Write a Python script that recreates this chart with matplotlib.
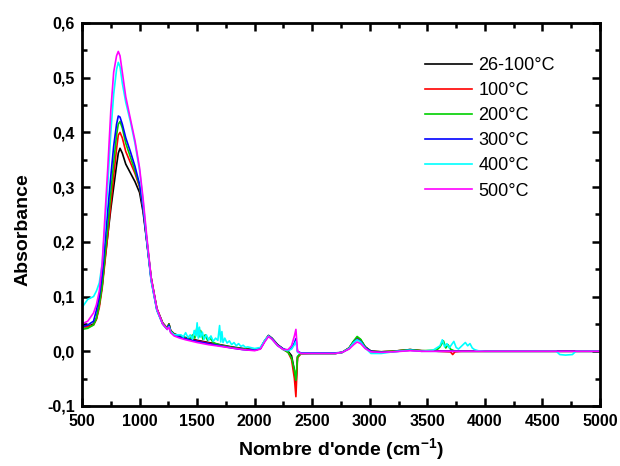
import numpy as np
import matplotlib
matplotlib.use("Agg")
import matplotlib.pyplot as plt
from matplotlib.ticker import MultipleLocator, FuncFormatter

plt.rcParams['font.family'] = ['Liberation Sans', 'DejaVu Sans']
plt.rcParams['mathtext.fontset'] = 'custom'
plt.rcParams['mathtext.rm'] = 'Liberation Sans:bold'
plt.rcParams['mathtext.default'] = 'rm'

# ---------------- data ----------------
wavenumber = [500, 550, 600, 625, 650, 675, 700, 725, 750, 775,
              800, 815, 830, 850, 880, 920, 960, 1000, 1030, 1060,
              1100, 1150, 1200, 1240, 1255, 1270, 1300, 1350, 1400, 1500,
              1600, 1700, 1800, 1900, 2000, 2050, 2090, 2120, 2150, 2200,
              2250, 2290, 2320, 2345, 2358, 2372, 2400, 2500, 2700, 2760,
              2820, 2860, 2890, 2920, 2960, 3010, 3100, 3200, 3350, 3450,
              3600, 3800, 4000, 4300, 4600, 4700, 5000]

abs_26_100 = [0.045, 0.045, 0.050, 0.060, 0.085, 0.120, 0.170, 0.215, 0.260, 0.300,
              0.340, 0.362, 0.371, 0.362, 0.342, 0.326, 0.310, 0.290, 0.255, 0.205,
              0.135, 0.078, 0.052, 0.042, 0.050, 0.038, 0.032, 0.028, 0.025, 0.020,
              0.016, 0.012, 0.008, 0.005, 0.003, 0.006, 0.020, 0.029, 0.024, 0.012,
              0.004, 0.000, -0.008, -0.035, -0.062, -0.010, -0.004, -0.004, -0.004, -0.002,
              0.006, 0.018, 0.025, 0.021, 0.008, 0.000, -0.001, 0.000, 0.003, 0.001,
              0.000, 0.000, 0.000, 0.000, 0.000, 0.000, 0.000]

abs_100 = [0.045, 0.045, 0.048, 0.058, 0.080, 0.115, 0.165, 0.215, 0.270, 0.320,
           0.370, 0.395, 0.400, 0.390, 0.365, 0.345, 0.325, 0.300, 0.262, 0.208,
           0.135, 0.078, 0.052, 0.042, 0.050, 0.037, 0.031, 0.027, 0.024, 0.019,
           0.015, 0.011, 0.007, 0.004, 0.002, 0.005, 0.020, 0.028, 0.023, 0.011,
           0.003, -0.002, -0.015, -0.050, -0.083, -0.012, -0.005, -0.004, -0.004, -0.002,
           0.006, 0.018, 0.024, 0.020, 0.008, 0.000, -0.001, 0.000, 0.003, 0.001,
           0.000, 0.000, 0.000, 0.000, 0.000, 0.000, 0.000]

abs_200 = [0.040, 0.042, 0.048, 0.060, 0.085, 0.120, 0.175, 0.230, 0.290, 0.345,
           0.395, 0.415, 0.420, 0.408, 0.380, 0.355, 0.330, 0.302, 0.264, 0.208,
           0.133, 0.077, 0.051, 0.041, 0.050, 0.037, 0.031, 0.027, 0.024, 0.019,
           0.015, 0.011, 0.007, 0.004, 0.002, 0.005, 0.020, 0.028, 0.023, 0.011,
           0.003, -0.002, -0.012, -0.035, -0.053, -0.010, -0.004, -0.004, -0.004, -0.002,
           0.006, 0.019, 0.027, 0.022, 0.008, 0.000, -0.001, 0.000, 0.003, 0.001,
           0.000, 0.000, 0.000, 0.000, 0.000, 0.000, 0.000]

abs_300 = [0.045, 0.048, 0.055, 0.075, 0.100, 0.140, 0.200, 0.260, 0.320, 0.375,
           0.415, 0.430, 0.428, 0.415, 0.390, 0.365, 0.338, 0.305, 0.262, 0.205,
           0.130, 0.075, 0.050, 0.040, 0.048, 0.035, 0.030, 0.026, 0.023, 0.018,
           0.014, 0.010, 0.006, 0.003, 0.002, 0.005, 0.020, 0.028, 0.023, 0.011,
           0.004, 0.002, 0.005, 0.015, 0.023, 0.000, -0.003, -0.003, -0.003, -0.002,
           0.005, 0.016, 0.022, 0.018, 0.007, 0.000, -0.002, -0.001, 0.002, 0.000,
           0.000, 0.000, 0.000, 0.000, 0.000, 0.000, 0.000]

abs_400 = [0.080, 0.095, 0.100, 0.110, 0.125, 0.160, 0.230, 0.310, 0.400, 0.470,
           0.515, 0.528, 0.520, 0.490, 0.455, 0.420, 0.380, 0.330, 0.275, 0.210,
           0.130, 0.075, 0.050, 0.040, 0.045, 0.036, 0.030, 0.030, 0.027, 0.024,
           0.020, 0.016, 0.012, 0.008, 0.005, 0.007, 0.021, 0.028, 0.022, 0.010,
           0.003, 0.001, 0.004, 0.012, 0.018, -0.002, -0.004, -0.004, -0.004, -0.002,
           0.005, 0.016, 0.021, 0.017, 0.006, -0.004, -0.004, -0.001, 0.002, 0.000,
           0.000, 0.000, 0.000, 0.000, 0.000, -0.007, 0.000]

abs_500 = [0.050, 0.055, 0.070, 0.085, 0.110, 0.160, 0.250, 0.340, 0.440, 0.510,
           0.540, 0.548, 0.540, 0.510, 0.465, 0.425, 0.385, 0.335, 0.280, 0.215,
           0.135, 0.078, 0.050, 0.040, 0.044, 0.034, 0.028, 0.024, 0.021, 0.016,
           0.012, 0.009, 0.006, 0.003, 0.001, 0.004, 0.018, 0.027, 0.022, 0.010,
           0.003, 0.003, 0.010, 0.028, 0.040, 0.000, -0.004, -0.004, -0.004, -0.002,
           0.004, 0.012, 0.017, 0.014, 0.005, -0.001, -0.002, -0.001, 0.001, 0.000,
           0.000, 0.000, 0.000, 0.000, 0.000, 0.000, 0.000]

# noisy stretches
noise_400_a_x = [1360, 1380, 1400, 1420, 1440, 1460, 1475, 1490, 1500, 1510, 1520, 1530,
                 1545, 1560, 1580, 1600, 1620, 1640, 1660, 1680, 1695, 1705, 1715, 1725,
                 1740, 1760, 1780, 1800, 1820, 1840, 1860, 1880, 1900, 1920, 1940]
noise_400_a_y = [0.030, 0.026, 0.034, 0.025, 0.030, 0.022, 0.038, 0.028, 0.052, 0.024, 0.044, 0.026,
                 0.035, 0.022, 0.030, 0.020, 0.028, 0.018, 0.024, 0.020, 0.047, 0.017, 0.036, 0.016,
                 0.024, 0.015, 0.019, 0.012, 0.016, 0.010, 0.014, 0.009, 0.011, 0.007, 0.008]
noise_400_b_x = [3550, 3580, 3610, 3630, 3650, 3670, 3690, 3710, 3730, 3750, 3770, 3790,
                 3810, 3830, 3850, 3870, 3890, 3910, 3940]
noise_400_b_y = [0.002, 0.006, 0.010, 0.021, 0.008, 0.014, 0.006, 0.012, 0.018, 0.007, 0.004, 0.008,
                 0.012, 0.016, 0.010, 0.014, 0.006, 0.003, 0.001]
noise_400_c_x = [4620, 4650, 4700, 4760, 4790]
noise_400_c_y = [0.000, -0.006, -0.007, -0.006, 0.000]

noise_200_a_x = [1440, 1460, 1480, 1500, 1515, 1530, 1550, 1570, 1590, 1610, 1640]
noise_200_a_y = [0.022, 0.030, 0.024, 0.045, 0.026, 0.038, 0.022, 0.030, 0.020, 0.025, 0.016]
noise_200_b_x = [3580, 3610, 3640, 3660, 3680, 3700, 3730]
noise_200_b_y = [0.002, 0.008, 0.019, 0.006, 0.012, 0.004, 0.001]

noise_100_x = [3700, 3720, 3740]
noise_100_y = [-0.001, -0.006, -0.001]

labels = ['26-100°C', '100°C', '200°C', '300°C', '400°C', '500°C']
colors = ['#000000', '#ff0000', '#00d000', '#0000ff', '#00ffff', '#ff00ff']


def merge(x, y, segments):
    x = np.asarray(x, float)
    y = np.asarray(y, float)
    for sx, sy in segments:
        sx = np.asarray(sx, float)
        sy = np.asarray(sy, float)
        keep = (x < sx.min()) | (x > sx.max())
        x = np.concatenate([x[keep], sx])
        y = np.concatenate([y[keep], sy])
        order = np.argsort(x)
        x, y = x[order], y[order]
    return x, y


series = [
    merge(wavenumber, abs_26_100, []),
    merge(wavenumber, abs_100, [(noise_100_x, noise_100_y)]),
    merge(wavenumber, abs_200, [(noise_200_a_x, noise_200_a_y), (noise_200_b_x, noise_200_b_y)]),
    merge(wavenumber, abs_300, []),
    merge(wavenumber, abs_400, [(noise_400_a_x, noise_400_a_y), (noise_400_b_x, noise_400_b_y),
                                (noise_400_c_x, noise_400_c_y)]),
    merge(wavenumber, abs_500, []),
]

# ---------------- figure ----------------
fig = plt.figure(figsize=(6.2, 4.66), dpi=100)
ax = fig.add_axes([0.1323, 0.1288, 0.8355, 0.8219])

for (x, y), lab, c in zip(series, labels, colors):
    ax.plot(x, y, color=c, lw=1.2, label=lab)

ax.set_xlim(500, 5000)
ax.set_ylim(-0.1, 0.6)
ax.xaxis.set_major_locator(MultipleLocator(500))
ax.xaxis.set_minor_locator(MultipleLocator(250))
ax.yaxis.set_major_locator(MultipleLocator(0.1))
ax.yaxis.set_minor_locator(MultipleLocator(0.05))
ax.yaxis.set_major_formatter(FuncFormatter(lambda v, p: f"{v:.1f}".replace('.', ',').replace('-0,0', '0,0')))
ax.xaxis.set_major_formatter(FuncFormatter(lambda v, p: f"{int(round(v))}"))

ax.tick_params(which='both', direction='in', top=True, right=True, width=1.8)
ax.tick_params(which='major', length=6, labelsize=11.5)
ax.tick_params(axis='x', which='major', pad=6)
ax.tick_params(axis='y', which='major', pad=5)
ax.tick_params(which='minor', length=3.5)
for lbl in ax.get_xticklabels() + ax.get_yticklabels():
    lbl.set_fontweight('bold')
for s in ax.spines.values():
    s.set_linewidth(2)

ax.set_xlabel("Nombre d'onde (cm$^{-1}$)", fontsize=14, fontweight='bold', labelpad=5)
ax.set_ylabel("Absorbance", fontsize=14, fontweight='bold')
ax.yaxis.set_label_coords(-0.098, 0.46)

leg = ax.legend(loc='upper left', bbox_to_anchor=(0.645, 0.935), frameon=False,
                fontsize=13, handlelength=2.6, handletextpad=0.35, labelspacing=0.45,
                borderpad=0)

fig.savefig('out.png', dpi=100)
